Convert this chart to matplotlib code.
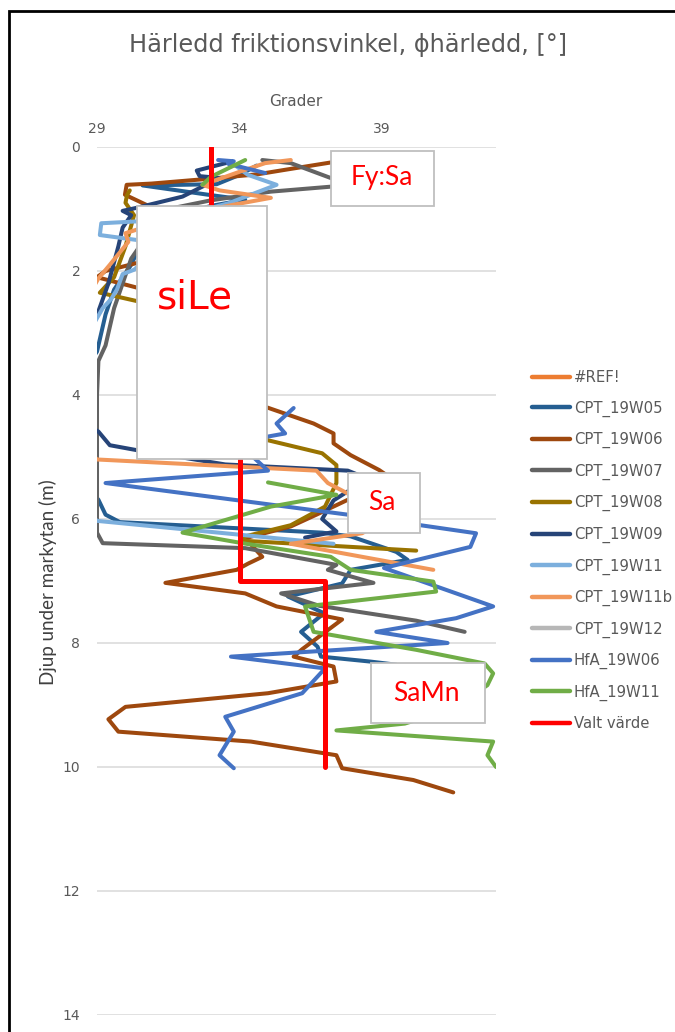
import numpy as np
import matplotlib
matplotlib.use("Agg")
import matplotlib.pyplot as plt
from matplotlib.patches import Rectangle

plt.rcParams['font.family'] = ['DejaVu Sans']

# ---------------- data (degrees vs depth) ----------------
series_names = ["#REF!", "CPT_19W05", "CPT_19W06", "CPT_19W07", "CPT_19W08",
                "CPT_19W09", "CPT_19W11", "CPT_19W11b", "CPT_19W12",
                "HfA_19W06", "HfA_19W11", "Valt värde"]

ref_deg = []
ref_z = []

w05_deg = [34.6, 34.0, 33.2, 30.6, 32.9, 34.2, 33.0, 31.0, 30.6, 30.2, 29.6, 29.3, 29.1, 29.0, 28.7, 28.7,
           29.05, 29.3, 29.8, 36.9, 37.9, 39.5, 39.9, 37.9, 37.6, 35.7, 36.97, 36.16, 36.74, 36.86, 38.6, 39.5]
w05_z = [0.30, 0.45, 0.60, 0.62, 0.77, 0.85, 0.95, 1.2, 1.5, 1.9, 2.3, 2.7, 3.1, 3.3, 3.5, 5.5,
         5.69, 5.93, 6.05, 6.22, 6.28, 6.53, 6.66, 6.82, 7.04, 7.25, 7.52, 7.82, 8.06, 8.22, 8.30, 8.35]

w06_deg = [37.74, 35.57, 34.64, 33.0, 30.91, 30.04, 29.98, 31.5, 31.0, 29.3, 29.0, 31.5, 33.0, 34.9,
           36.6, 37.3, 37.3, 37.9, 38.9, 39.5, 37.8, 36.7, 35.8, 34.2, 34.8, 34.3, 33.9, 31.4,
           34.2, 35.3, 37.6, 36.2, 35.9, 37.3, 37.4, 35.0, 30.0, 29.4, 29.75, 34.4, 37.4, 37.6,
           40.1, 41.5]
w06_z = [0.21, 0.37, 0.44, 0.51, 0.59, 0.61, 0.77, 1.1, 1.8, 2.0, 2.1, 2.4, 3.5, 4.19,
         4.46, 4.62, 4.78, 4.97, 5.21, 5.4, 5.69, 5.93, 6.12, 6.31, 6.61, 6.72, 6.82, 7.03,
         7.2, 7.41, 7.62, 8.10, 8.22, 8.38, 8.62, 8.81, 9.03, 9.23, 9.43, 9.59, 9.81, 10.02,
         10.21, 10.41]

w07_deg = [34.8, 35.8, 37.2, 38.5, 38.0, 37.2, 35.1, 33.0, 31.5, 30.5, 30.2, 29.9, 29.6, 29.4, 29.3,
           29.05, 29.0, 29.0, 29.0, 29.2, 34.2, 37.4, 37.1, 38.7, 35.46, 36.8, 40.2, 41.9]
w07_z = [0.21, 0.26, 0.50, 0.55, 0.62, 0.64, 0.72, 0.86, 1.0, 1.6, 1.8, 2.2, 2.6, 3.0, 3.2,
         3.45, 4.0, 5.0, 6.22, 6.39, 6.47, 6.74, 6.82, 7.03, 7.2, 7.4, 7.64, 7.82]

w08_deg = [30.15, 30.05, 30.0, 30.3, 30.0, 29.6, 29.1, 31.5, 33.0, 34.5, 35.0, 36.9, 37.4, 37.4,
           37.0, 35.8, 34.2, 34.1, 40.2]
w08_z = [0.70, 0.78, 0.90, 1.1, 1.6, 2.1, 2.35, 2.6, 4.0, 4.6, 4.73, 4.94, 5.13, 5.42,
         5.80, 6.10, 6.28, 6.35, 6.51]

w09_deg = [33.6, 32.5, 32.6, 33.3, 32.0, 30.4, 29.9, 30.2, 29.9, 29.75, 29.4, 29.05, 28.7, 28.7,
           29.05, 29.45, 30.4, 33.5, 37.8, 38.5, 37.3, 36.9, 37.4, 36.3]
w09_z = [0.25, 0.38, 0.47, 0.50, 0.80, 0.98, 1.03, 1.10, 1.30, 1.60, 2.20, 2.65, 3.0, 4.5,
         4.59, 4.81, 4.89, 5.12, 5.22, 5.35, 5.70, 6.0, 6.2, 6.3]

w11_deg = [33.8, 34.3, 35.3, 33.6, 32.0, 30.4, 29.15, 29.1, 30.4, 31.0, 30.3, 29.9, 29.7, 29.5,
           29.2, 29.0, 28.7, 28.7, 29.0, 37.3]
w11_z = [0.28, 0.45, 0.61, 0.91, 1.1, 1.2, 1.23, 1.42, 1.50, 1.70, 1.98, 2.05, 2.30, 2.45,
         2.60, 2.76, 3.0, 5.9, 6.03, 6.40]

w11b_deg = [35.8, 34.9, 34.0, 32.7, 33.3, 35.1, 33.8, 32.0, 30.0, 30.1, 29.45, 29.05, 28.7, 28.7,
            29.0, 36.7, 37.1, 37.8, 38.5, 38.8, 38.3, 35.8, 40.8]
w11b_z = [0.21, 0.26, 0.40, 0.61, 0.70, 0.82, 0.93, 1.10, 1.39, 1.53, 1.90, 2.12, 2.4, 4.9,
          5.04, 5.22, 5.42, 5.59, 5.80, 6.10, 6.23, 6.40, 6.82]

w12_deg = []
w12_z = []

hfa06_deg = [33.25, 33.8, 33.6, 34.9, np.nan, 35.9, 35.3, 35.6, 35.0, 34.0, 35.0, 29.3, 37.8, 39.0,
             40.35, 42.3, 42.1, 39.07, 42.9, 41.6, 38.8, 41.3, 33.7, 37.0, 36.2, 33.5, 33.8, 33.3, 33.8]
hfa06_z = [0.21, 0.23, 0.27, 0.42, np.nan, 4.21, 4.46, 4.62, 4.67, 4.80, 5.22, 5.42, 5.93, 6.0,
           6.10, 6.23, 6.45, 6.79, 7.41, 7.60, 7.82, 8.00, 8.22, 8.41, 8.81, 9.19, 9.43, 9.81, 10.02]

hfa11_deg = [34.2, 33.0, 32.7, np.nan, 35.0, 37.4, 35.1, 32.0, 34.1, 37.2, 37.9, 40.8, 40.9, 36.3,
             36.6, 40.2, 42.6, 42.9, 42.7, 42.0, 40.5, 39.8, 37.4, 42.9, 42.7, 43.0]
hfa11_z = [0.21, 0.48, 0.61, np.nan, 5.41, 5.61, 5.80, 6.22, 6.39, 6.61, 6.82, 7.01, 7.17, 7.41,
           7.82, 8.11, 8.33, 8.49, 8.68, 8.90, 9.20, 9.30, 9.41, 9.59, 9.81, 10.0]

valt_deg = [33, 33, 34, 34, 37, 37]
valt_z = [0, 1, 1, 7, 7, 10]

series_deg = [ref_deg, w05_deg, w06_deg, w07_deg, w08_deg, w09_deg, w11_deg, w11b_deg,
              w12_deg, hfa06_deg, hfa11_deg, valt_deg]
series_z = [ref_z, w05_z, w06_z, w07_z, w08_z, w09_z, w11_z, w11b_z,
            w12_z, hfa06_z, hfa11_z, valt_z]
series_colors = ["#ED7D31", "#255E91", "#9E480E", "#636363", "#997300", "#264478",
                 "#7CAFDD", "#F1975A", "#B7B7B7", "#4472C4", "#70AD47", "#FF0000"]

x_ticks = [29, 34, 39]
y_ticks = [0, 2, 4, 6, 8, 10, 12, 14]

title = "Härledd friktionsvinkel, ϕhärledd, [°]"
x_title = "Grader"
y_title = "Djup under markytan (m)"

box_labels = ["Fy:Sa", "siLe", "Sa", "SaMn"]

# ---------------- figure ----------------
W, H = 675, 1032
fig = plt.figure(figsize=(W / 100, H / 100), dpi=100)
fig.patch.set_facecolor("white")

def fx(px):
    return px / W

def fy(py):
    return 1 - py / H

ax = fig.add_axes([fx(97), fy(1015), (496 - 97) / W, (1015 - 147) / H])
ax.set_xlim(29, 43)
ax.set_ylim(14, 0)

grey = "#595959"
handles = []
for name, xs, zs, col in zip(series_names, series_deg, series_z, series_colors):
    lw = 3.6 if name == "Valt värde" else 2.9
    ln, = ax.plot(xs, zs, color=col, lw=lw, solid_joinstyle="round",
                  solid_capstyle="round", label=name)
    handles.append(ln)

ax.xaxis.tick_top()
ax.set_xticks(x_ticks)
ax.set_yticks(y_ticks)
ax.tick_params(axis="both", length=0, labelsize=10, labelcolor=grey)
ax.tick_params(axis="x", pad=8)
ax.tick_params(axis="y", pad=12)
for s in ax.spines.values():
    s.set_visible(False)
ax.grid(axis="y", color="#D9D9D9", lw=1.1)
ax.grid(axis="x", visible=False)
ax.set_axisbelow(True)

# text boxes (annotations)
boxes = [
    ("Fy:Sa", 37.22, 40.82, 0.065, 0.947, 39.0, 0.50, 19, "Lato"),
    ("siLe", 30.41, 34.97, 0.95, 5.04, 32.45, 2.42, 28, "DejaVu Sans"),
    ("Sa", 37.81, 40.33, 5.25, 6.22, 39.0, 5.73, 19, "Lato"),
    ("SaMn", 38.63, 42.62, 8.33, 9.29, 40.55, 8.81, 19, "Lato"),
]
for lab, x0, x1, z0, z1, tx, tz, fs, fam in boxes:
    ax.add_patch(Rectangle((x0, z0), x1 - x0, z1 - z0, facecolor="white",
                           edgecolor="#BFBFBF", lw=1.3, zorder=10, clip_on=False))
    ax.text(tx, tz, lab, color="#FF0000", fontsize=fs, ha="center", va="center",
            zorder=11, family=fam)

# titles
fig.text(fx(348), fy(45), title, ha="center", va="center", fontsize=17.3, color=grey)
fig.text(fx(296), fy(101), x_title, ha="center", va="center", fontsize=11, color=grey)
fig.text(fx(48), fy(582), y_title, ha="center", va="center", fontsize=13.5,
         color="#404040", rotation=90, family="Lato")

# legend
leg = fig.legend(handles=handles, labels=series_names, loc="upper left",
                 bbox_to_anchor=(fx(532), fy(370)), frameon=False, fontsize=10.7,
                 handlelength=2.55, handletextpad=0.27, labelspacing=1.035,
                 borderaxespad=0, borderpad=0)
for t in leg.get_texts():
    t.set_color(grey)
for l in leg.get_lines():
    l.set_linewidth(3.2)

# outer frame
fig.add_artist(Rectangle((fx(9), -0.5), 2, fy(11) + 0.5, transform=fig.transFigure,
                         fill=False, edgecolor="black", lw=2.0))

fig.savefig("out.png", dpi=100)
